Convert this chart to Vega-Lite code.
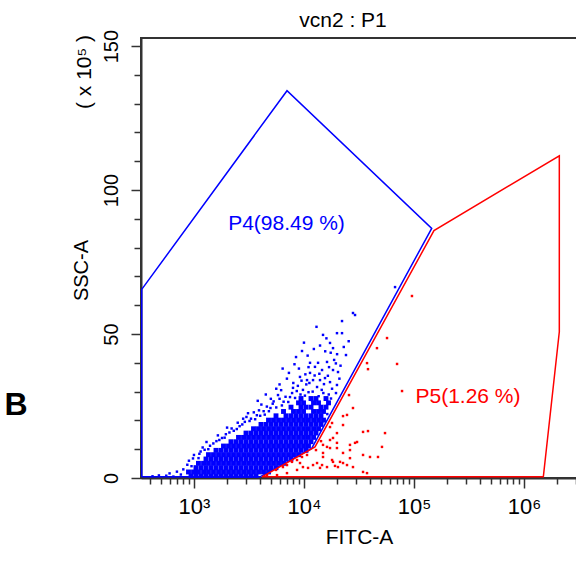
{
  "$schema": "https://vega.github.io/schema/vega-lite/v6.json",
  "autosize": "none",
  "width": 436,
  "height": 440,
  "padding": {"left": 141, "top": 38, "right": 0, "bottom": 85},
  "background": "white",
  "config": {
    "view": {"stroke": "#333333", "strokeWidth": 2},
    "font": "Liberation Sans",
    "axis": {"labelFont": "Liberation Sans", "titleFont": "Liberation Sans"},
    "text": {"font": "Liberation Sans"}
  },
  "resolve": {"axis": {"x": "independent", "y": "independent"}},
  "datasets": {
    "core": [
      {"x":940,"y":0.6},{"x":1043,"y":0.6},{"x":1159,"y":0.6},{"x":1286,"y":0.6},{"x":1428,"y":0.6},{"x":1586,"y":0.6},{"x":1761,"y":0.6},{"x":1955,"y":0.6},{"x":2171,"y":0.6},{"x":2411,"y":0.6},{"x":2677,"y":0.6},{"x":2972,"y":0.6},{"x":3300,"y":0.6},{"x":3664,"y":0.6},
      {"x":892,"y":2.1},{"x":991,"y":2.1},{"x":1099,"y":2.1},{"x":1222,"y":2.1},{"x":1355,"y":2.1},{"x":1505,"y":2.1},{"x":1672,"y":2.1},{"x":1856,"y":2.1},{"x":2061,"y":2.1},{"x":2288,"y":2.1},{"x":2541,"y":2.1},{"x":2822,"y":2.1},{"x":3133,"y":2.1},{"x":3478,"y":2.1},{"x":3862,"y":2.1},{"x":4288,"y":2.1},{"x":4762,"y":2.1},
      {"x":1043,"y":3.6},{"x":1159,"y":3.6},{"x":1286,"y":3.6},{"x":1428,"y":3.6},{"x":1586,"y":3.6},{"x":1761,"y":3.6},{"x":1955,"y":3.6},{"x":2171,"y":3.6},{"x":2411,"y":3.6},{"x":2677,"y":3.6},{"x":2972,"y":3.6},{"x":3300,"y":3.6},{"x":3664,"y":3.6},{"x":4068,"y":3.6},{"x":4518,"y":3.6},{"x":5015,"y":3.6},{"x":5569,"y":3.6},
      {"x":1099,"y":5.1},{"x":1222,"y":5.1},{"x":1355,"y":5.1},{"x":1505,"y":5.1},{"x":1672,"y":5.1},{"x":1856,"y":5.1},{"x":2061,"y":5.1},{"x":2288,"y":5.1},{"x":2541,"y":5.1},{"x":2822,"y":5.1},{"x":3133,"y":5.1},{"x":3478,"y":5.1},{"x":3862,"y":5.1},{"x":4288,"y":5.1},{"x":4762,"y":5.1},{"x":5286,"y":5.1},{"x":5870,"y":5.1},{"x":6517,"y":5.1},
      {"x":1286,"y":6.6},{"x":1428,"y":6.6},{"x":1586,"y":6.6},{"x":1761,"y":6.6},{"x":1955,"y":6.6},{"x":2171,"y":6.6},{"x":2411,"y":6.6},{"x":2677,"y":6.6},{"x":2972,"y":6.6},{"x":3300,"y":6.6},{"x":3664,"y":6.6},{"x":4068,"y":6.6},{"x":4518,"y":6.6},{"x":5015,"y":6.6},{"x":5569,"y":6.6},{"x":6183,"y":6.6},{"x":6866,"y":6.6},{"x":7623,"y":6.6},
      {"x":1355,"y":8.1},{"x":1505,"y":8.1},{"x":1672,"y":8.1},{"x":1856,"y":8.1},{"x":2061,"y":8.1},{"x":2288,"y":8.1},{"x":2541,"y":8.1},{"x":2822,"y":8.1},{"x":3133,"y":8.1},{"x":3478,"y":8.1},{"x":3862,"y":8.1},{"x":4288,"y":8.1},{"x":4762,"y":8.1},{"x":5286,"y":8.1},{"x":5870,"y":8.1},{"x":6517,"y":8.1},{"x":7237,"y":8.1},{"x":8035,"y":8.1},{"x":8922,"y":8.1},
      {"x":1586,"y":9.6},{"x":1761,"y":9.6},{"x":1955,"y":9.6},{"x":2171,"y":9.6},{"x":2411,"y":9.6},{"x":2677,"y":9.6},{"x":2972,"y":9.6},{"x":3300,"y":9.6},{"x":3664,"y":9.6},{"x":4068,"y":9.6},{"x":4518,"y":9.6},{"x":5015,"y":9.6},{"x":5569,"y":9.6},{"x":6183,"y":9.6},{"x":6866,"y":9.6},{"x":7623,"y":9.6},{"x":8465,"y":9.6},{"x":9400,"y":9.6},{"x":10430,"y":9.6},
      {"x":1856,"y":11.1},{"x":2061,"y":11.1},{"x":2288,"y":11.1},{"x":2541,"y":11.1},{"x":2822,"y":11.1},{"x":3133,"y":11.1},{"x":3478,"y":11.1},{"x":3862,"y":11.1},{"x":4288,"y":11.1},{"x":4762,"y":11.1},{"x":5286,"y":11.1},{"x":5870,"y":11.1},{"x":6517,"y":11.1},{"x":7237,"y":11.1},{"x":8035,"y":11.1},{"x":8922,"y":11.1},{"x":9908,"y":11.1},{"x":10990,"y":11.1},
      {"x":2171,"y":12.6},{"x":2411,"y":12.6},{"x":2677,"y":12.6},{"x":2972,"y":12.6},{"x":3300,"y":12.6},{"x":3664,"y":12.6},{"x":4068,"y":12.6},{"x":4518,"y":12.6},{"x":5015,"y":12.6},{"x":5569,"y":12.6},{"x":6183,"y":12.6},{"x":6866,"y":12.6},{"x":7623,"y":12.6},{"x":8465,"y":12.6},{"x":9400,"y":12.6},{"x":10430,"y":12.6},{"x":11590,"y":12.6},
      {"x":2541,"y":14.1},{"x":2822,"y":14.1},{"x":3133,"y":14.1},{"x":3478,"y":14.1},{"x":3862,"y":14.1},{"x":4288,"y":14.1},{"x":4762,"y":14.1},{"x":5286,"y":14.1},{"x":5870,"y":14.1},{"x":6517,"y":14.1},{"x":7237,"y":14.1},{"x":8035,"y":14.1},{"x":8922,"y":14.1},{"x":9908,"y":14.1},{"x":10990,"y":14.1},{"x":12220,"y":14.1},
      {"x":2972,"y":15.6},{"x":3300,"y":15.6},{"x":3664,"y":15.6},{"x":4068,"y":15.6},{"x":4518,"y":15.6},{"x":5015,"y":15.6},{"x":5569,"y":15.6},{"x":6183,"y":15.6},{"x":6866,"y":15.6},{"x":7623,"y":15.6},{"x":8465,"y":15.6},{"x":9400,"y":15.6},{"x":10430,"y":15.6},{"x":11590,"y":15.6},{"x":12860,"y":15.6},
      {"x":3478,"y":17.1},{"x":3862,"y":17.1},{"x":4288,"y":17.1},{"x":4762,"y":17.1},{"x":5286,"y":17.1},{"x":5870,"y":17.1},{"x":6517,"y":17.1},{"x":7237,"y":17.1},{"x":8035,"y":17.1},{"x":8922,"y":17.1},{"x":9908,"y":17.1},{"x":10990,"y":17.1},{"x":12220,"y":17.1},{"x":13560,"y":17.1},
      {"x":4068,"y":18.6},{"x":4518,"y":18.6},{"x":5015,"y":18.6},{"x":5569,"y":18.6},{"x":6183,"y":18.6},{"x":6866,"y":18.6},{"x":7623,"y":18.6},{"x":8465,"y":18.6},{"x":9400,"y":18.6},{"x":10430,"y":18.6},{"x":11590,"y":18.6},{"x":12860,"y":18.6},{"x":14280,"y":18.6},
      {"x":4762,"y":20.1},{"x":5286,"y":20.1},{"x":5870,"y":20.1},{"x":6517,"y":20.1},{"x":7237,"y":20.1},{"x":8035,"y":20.1},{"x":8922,"y":20.1},{"x":9908,"y":20.1},{"x":10990,"y":20.1},{"x":12220,"y":20.1},{"x":13560,"y":20.1},{"x":15050,"y":20.1},
      {"x":5569,"y":21.6},{"x":6866,"y":21.6},{"x":7623,"y":21.6},{"x":8465,"y":21.6},{"x":9400,"y":21.6},{"x":10430,"y":21.6},{"x":11590,"y":21.6},{"x":12860,"y":21.6},{"x":14280,"y":21.6},
      {"x":6517,"y":23.1},{"x":8035,"y":23.1},{"x":8922,"y":23.1},{"x":9908,"y":23.1},{"x":12220,"y":23.1},{"x":13560,"y":23.1},{"x":15050,"y":23.1},
      {"x":7623,"y":24.6},{"x":9400,"y":24.6},{"x":10430,"y":24.6},{"x":11590,"y":24.6},{"x":14280,"y":24.6},{"x":15860,"y":24.6},
      {"x":8922,"y":26.1},{"x":9908,"y":26.1},{"x":12220,"y":26.1},{"x":13560,"y":26.1},{"x":16720,"y":26.1},
      {"x":9400,"y":27.6},{"x":11590,"y":27.6},{"x":12860,"y":27.6},{"x":15860,"y":27.6}
    ],
    "events": [
      {"gate":"P4","x":420,"y":0.6},{"gate":"P4","x":560,"y":0.8},{"gate":"P4","x":650,"y":0.5},{"gate":"P4","x":760,"y":1.2},{"gate":"P4","x":800,"y":3.0},{"gate":"P4","x":870,"y":4.6},{"gate":"P4","x":980,"y":6.8},{"gate":"P4","x":1120,"y":8.4},{"gate":"P4","x":1250,"y":9.8},{"gate":"P4","x":1400,"y":11.2},{"gate":"P4","x":1600,"y":12.8},{"gate":"P4","x":1800,"y":13.9},{"gate":"P4","x":1950,"y":15.2},{"gate":"P4","x":2300,"y":16.4},{"gate":"P4","x":2600,"y":18.0},{"gate":"P4","x":2900,"y":19.5},{"gate":"P4","x":3300,"y":20.6},{"gate":"P4","x":3730,"y":21.8},{"gate":"P4","x":4300,"y":23.2},{"gate":"P4","x":4960,"y":24.3},{"gate":"P4","x":5200,"y":25.8},{"gate":"P4","x":5807,"y":28.8},{"gate":"P4","x":6530,"y":26.5},{"gate":"P4","x":7467,"y":28.1},{"gate":"P4","x":6200,"y":30.5},{"gate":"P4","x":7950,"y":31.3},{"gate":"P4","x":9790,"y":30.6},{"gate":"P4","x":10660,"y":34},{"gate":"P4","x":12090,"y":34},{"gate":"P4","x":13990,"y":34},{"gate":"P4","x":15530,"y":34.7},{"gate":"P4","x":17250,"y":33.3},{"gate":"P4","x":19950,"y":32.3},{"gate":"P4","x":13150,"y":31.6},{"gate":"P4","x":9200,"y":35.1},{"gate":"P4","x":11350,"y":36.5},{"gate":"P4","x":14600,"y":37.5},{"gate":"P4","x":8470,"y":42},{"gate":"P4","x":9600,"y":44.1},{"gate":"P4","x":11350,"y":40},{"gate":"P4","x":13430,"y":40},{"gate":"P4","x":16200,"y":40.3},{"gate":"P4","x":12590,"y":38.6},{"gate":"P4","x":16900,"y":38.5},{"gate":"P4","x":18370,"y":37.5},{"gate":"P4","x":20390,"y":36.8},{"gate":"P4","x":17250,"y":46.9},{"gate":"P4","x":18370,"y":45.1},{"gate":"P4","x":24100,"y":42.7},{"gate":"P4","x":14900,"y":49.7},{"gate":"P4","x":19960,"y":50.3},{"gate":"P4","x":22180,"y":50.3},{"gate":"P4","x":22180,"y":54.5},{"gate":"P4","x":27900,"y":57.3},{"gate":"P4","x":29130,"y":56.6},{"gate":"P4","x":67300,"y":66.3},{"gate":"P4","x":15000,"y":29.5},{"gate":"P4","x":17610,"y":27.6},{"gate":"P4","x":19550,"y":29.5},{"gate":"P4","x":18000,"y":31},{"gate":"P4","x":8000,"y":33},{"gate":"P4","x":10500,"y":32.5},{"gate":"P4","x":12000,"y":30},{"gate":"P4","x":16500,"y":35.5},{"gate":"P4","x":21500,"y":39},{"gate":"P4","x":20000,"y":43},{"gate":"P4","x":11000,"y":38.5},{"gate":"P4","x":10000,"y":47},{"gate":"P4","x":15600,"y":44},{"gate":"P4","x":25500,"y":47.5},{"gate":"P4","x":13000,"y":52.5},{"gate":"P4","x":9000,"y":38},{"gate":"P4","x":7000,"y":34.5},{"gate":"P4","x":6000,"y":32.5},{"gate":"P4","x":21000,"y":34.5},{"gate":"P4","x":23000,"y":45.5},{"gate":"P4","x":14200,"y":23.5},{"gate":"P4","x":16000,"y":25},{"gate":"P4","x":16300,"y":22.2},{"gate":"P4","x":3100,"y":22.5},{"gate":"P4","x":4100,"y":25.5},{"gate":"P4","x":2000,"y":17.5},{"gate":"P4","x":1300,"y":12.5},{"gate":"P4","x":5000,"y":27.5},
      {"gate":"P4","x":900,"y":6.0},{"gate":"P4","x":1000,"y":8.0},{"gate":"P4","x":1150,"y":9.2},{"gate":"P4","x":1200,"y":10.6},{"gate":"P4","x":1350,"y":10.0},{"gate":"P4","x":1500,"y":12.0},{"gate":"P4","x":1700,"y":13.2},{"gate":"P4","x":1650,"y":14.8},{"gate":"P4","x":1900,"y":14.0},{"gate":"P4","x":2100,"y":15.8},{"gate":"P4","x":2200,"y":17.2},{"gate":"P4","x":2450,"y":17.0},{"gate":"P4","x":2500,"y":19.2},{"gate":"P4","x":2750,"y":18.6},{"gate":"P4","x":2800,"y":20.6},{"gate":"P4","x":3000,"y":21.2},{"gate":"P4","x":3200,"y":19.8},{"gate":"P4","x":3500,"y":22.8},{"gate":"P4","x":3600,"y":20.4},{"gate":"P4","x":3900,"y":23.5},{"gate":"P4","x":4000,"y":21.6},{"gate":"P4","x":4400,"y":22.0},{"gate":"P4","x":4600,"y":24.8},{"gate":"P4","x":4800,"y":23.2},{"gate":"P4","x":5300,"y":26.6},{"gate":"P4","x":5600,"y":24.5},{"gate":"P4","x":6000,"y":27.5},{"gate":"P4","x":6300,"y":25.2},{"gate":"P4","x":6800,"y":28.2},{"gate":"P4","x":7200,"y":26.4},{"gate":"P4","x":7800,"y":29.5},{"gate":"P4","x":8300,"y":27.8},{"gate":"P4","x":8600,"y":30.2},{"gate":"P4","x":9300,"y":29.0},{"gate":"P4","x":10200,"y":28.6},{"gate":"P4","x":11000,"y":29.8},{"gate":"P4","x":11800,"y":27.0},{"gate":"P4","x":13600,"y":28.4},{"gate":"P4","x":14500,"y":30.6},{"gate":"P4","x":16800,"y":29.0},{"gate":"P4","x":8800,"y":32.0},{"gate":"P4","x":9500,"y":33.8},{"gate":"P4","x":11200,"y":33.0},{"gate":"P4","x":12500,"y":35.6},{"gate":"P4","x":13800,"y":36.2},{"gate":"P4","x":10300,"y":36.0},{"gate":"P4","x":15200,"y":32.6},{"gate":"P4","x":7300,"y":36.5},{"gate":"P4","x":8200,"y":39.5},{"gate":"P4","x":10800,"y":42.5},{"gate":"P4","x":12300,"y":44.8},{"gate":"P4","x":14000,"y":46.0},{"gate":"P4","x":16000,"y":48.5},{"gate":"P4","x":18800,"y":41.0},{"gate":"P4","x":19500,"y":39.8},{"gate":"P4","x":17500,"y":43.5},{"gate":"P4","x":6400,"y":38.0},{"gate":"P4","x":5600,"y":31.0},{"gate":"P4","x":4500,"y":29.0},{"gate":"P4","x":3800,"y":26.8},{"gate":"P4","x":700,"y":2.2},{"gate":"P4","x":950,"y":4.1},{"gate":"P4","x":1100,"y":6.9},{"gate":"P4","x":600,"y":1.6},{"gate":"P4","x":480,"y":0.9},
      {"gate":"P5","x":4613,"y":1.0},{"gate":"P5","x":5570,"y":2.8},{"gate":"P5","x":5690,"y":1.0},{"gate":"P5","x":6440,"y":3.8},{"gate":"P5","x":7010,"y":1.7},{"gate":"P5","x":7010,"y":4.5},{"gate":"P5","x":7780,"y":5.6},{"gate":"P5","x":8650,"y":6.25},{"gate":"P5","x":8650,"y":2.8},{"gate":"P5","x":9600,"y":7.3},{"gate":"P5","x":9207,"y":5.2},{"gate":"P5","x":9790,"y":3.8},{"gate":"P5","x":10660,"y":8},{"gate":"P5","x":10890,"y":3.5},{"gate":"P5","x":12090,"y":4.5},{"gate":"P5","x":13150,"y":5.2},{"gate":"P5","x":13990,"y":3.5},{"gate":"P5","x":14600,"y":4.5},{"gate":"P5","x":14900,"y":7.3},{"gate":"P5","x":14900,"y":11.5},{"gate":"P5","x":18000,"y":19.1},{"gate":"P5","x":14900,"y":8.7},{"gate":"P5","x":16200,"y":10.8},{"gate":"P5","x":16200,"y":3.8},{"gate":"P5","x":17250,"y":13.2},{"gate":"P5","x":17250,"y":17.7},{"gate":"P5","x":17250,"y":10.4},{"gate":"P5","x":18000,"y":6.25},{"gate":"P5","x":18370,"y":13.9},{"gate":"P5","x":18370,"y":5.6},{"gate":"P5","x":19150,"y":4.2},{"gate":"P5","x":19950,"y":10.4},{"gate":"P5","x":19950,"y":15.6},{"gate":"P5","x":19950,"y":12.2},{"gate":"P5","x":20370,"y":3.8},{"gate":"P5","x":21270,"y":5.6},{"gate":"P5","x":22650,"y":18.4},{"gate":"P5","x":22650,"y":21.5},{"gate":"P5","x":22650,"y":8.7},{"gate":"P5","x":22650,"y":5.2},{"gate":"P5","x":25670,"y":28.8},{"gate":"P5","x":24620,"y":21.9},{"gate":"P5","x":24620,"y":4.5},{"gate":"P5","x":26200,"y":9.7},{"gate":"P5","x":26200,"y":11.5},{"gate":"P5","x":26200,"y":6.9},{"gate":"P5","x":27900,"y":24.3},{"gate":"P5","x":27900,"y":3.8},{"gate":"P5","x":29130,"y":12.2},{"gate":"P5","x":30370,"y":12.5},{"gate":"P5","x":34440,"y":8},{"gate":"P5","x":34440,"y":2.1},{"gate":"P5","x":34440,"y":16},{"gate":"P5","x":37430,"y":1.7},{"gate":"P5","x":37430,"y":39.9},{"gate":"P5","x":38200,"y":16.3},{"gate":"P5","x":38200,"y":37.8},{"gate":"P5","x":39840,"y":7.3},{"gate":"P5","x":46100,"y":45.1},{"gate":"P5","x":47100,"y":7.3},{"gate":"P5","x":51200,"y":10.8},{"gate":"P5","x":54550,"y":15.6},{"gate":"P5","x":56900,"y":48.6},{"gate":"P5","x":70200,"y":39.6},{"gate":"P5","x":77900,"y":30.2},{"gate":"P5","x":95900,"y":63.2},{"gate":"P5","x":12860,"y":9.7},{"gate":"P5","x":14290,"y":12.8}
    ],
    "gates": [
      {"gate":"P4","o":1,"x":335,"y":0.4},{"gate":"P4","o":2,"x":335,"y":65.5},{"gate":"P4","o":3,"x":7013,"y":134.5},{"gate":"P4","o":4,"x":145000,"y":86.7},{"gate":"P4","o":5,"x":11760,"y":10.3},{"gate":"P4","o":6,"x":3985,"y":0.4},{"gate":"P4","o":7,"x":335,"y":0.4},
      {"gate":"P5","o":1,"x":4150,"y":0.4},{"gate":"P5","o":2,"x":12600,"y":10.8},{"gate":"P5","o":3,"x":152000,"y":85.9},{"gate":"P5","o":4,"x":2096000,"y":111.9},{"gate":"P5","o":5,"x":2096000,"y":50.8},{"gate":"P5","o":6,"x":1500000,"y":0.4},{"gate":"P5","o":7,"x":4150,"y":0.4}
    ],
    "labels": [
      {"gate":"P4","label":"P4(98.49 %)","x":6937,"y":88.2},
      {"gate":"P5","label":"P5(1.26 %)","x":309900,"y":28.3}
    ]
  },
  "encoding": {
    "x": {"field": "x", "type": "quantitative", "scale": {"type": "log", "domain": [330, 3035000], "nice": false}, "axis": null},
    "y": {"field": "y", "type": "quantitative", "scale": {"domain": [0, 152.8], "nice": false, "zero": false}, "axis": null}
  },
  "layer": [
    {
      "data": {"name": "core"},
      "mark": {"type": "square", "color": "#0000ff", "size": 24, "opacity": 1, "clip": true},
      "encoding": {
        "x": {
          "field": "x", "type": "quantitative",
          "scale": {"type": "log", "domain": [330, 3035000], "nice": false},
          "axis": {
            "orient": "bottom",
            "title": "FITC-A", "titleFontSize": 21, "titleFontWeight": "normal", "titleColor": "#000000",
            "titleBaseline": "alphabetic", "titleY": 65,
            "values": [1000, 10000, 100000, 1000000],
            "labelExpr": "datum.value == 1000 ? '10³' : datum.value == 10000 ? '10⁴' : datum.value == 100000 ? '10⁵' : '10⁶'",
            "labelFontSize": 22, "labelColor": "#000000", "labelOverlap": false, "labelFlush": false, "labelBound": false, "labelPadding": 8,
            "tickSize": 10, "tickColor": "#333333", "tickWidth": 1.5, "domainColor": "#333333", "domainWidth": 2, "grid": false
          }
        },
        "y": {
          "field": "y", "type": "quantitative",
          "scale": {"domain": [0, 152.8], "nice": false, "zero": false},
          "axis": {
            "orient": "left",
            "title": "SSC-A", "titleFontSize": 20, "titleFontWeight": "normal", "titleColor": "#000000",
            "titleAngle": 270, "titleAlign": "center", "titleBaseline": "middle", "titleX": -59.5, "titleY": 232,
            "values": [0, 50, 100, 150],
            "labelAngle": 270, "labelFontSize": 20, "labelColor": "#000000", "labelOverlap": false, "labelFlush": false, "labelBound": false, "labelPadding": 10,
            "tickSize": 10, "tickColor": "#333333", "tickWidth": 1.5, "domainColor": "#333333", "domainWidth": 2, "grid": false
          }
        }
      }
    },
    {
      "data": {"name": "events"},
      "mark": {"type": "square", "size": 6, "opacity": 1, "clip": true},
      "encoding": {
        "x": {
          "field": "x", "type": "quantitative",
          "scale": {"type": "log", "domain": [330, 3035000], "nice": false},
          "axis": {
            "orient": "bottom", "title": null, "labels": false, "domain": false, "grid": false,
            "values": [400,500,600,700,800,900,2000,3000,4000,5000,6000,7000,8000,9000,20000,30000,40000,50000,60000,70000,80000,90000,200000,300000,400000,500000,600000,700000,800000,900000,2000000,3000000],
            "tickSize": 6, "tickColor": "#333333", "tickWidth": 1.5
          }
        },
        "y": {
          "field": "y", "type": "quantitative",
          "scale": {"domain": [0, 152.8], "nice": false, "zero": false},
          "axis": {
            "orient": "left", "title": null, "labels": false, "domain": false, "grid": false,
            "values": [10,20,30,40,60,70,80,90,110,120,130,140],
            "tickSize": 7, "tickColor": "#333333", "tickWidth": 1.5
          }
        },
        "color": {"field": "gate", "type": "nominal", "scale": {"domain": ["P4", "P5"], "range": ["#0000ff", "#ff0000"]}, "legend": null}
      }
    },
    {
      "data": {"name": "gates"},
      "mark": {"type": "line", "strokeWidth": 1.5, "clip": false},
      "encoding": {
        "order": {"field": "o", "type": "quantitative"},
        "detail": {"field": "gate"},
        "color": {"field": "gate", "type": "nominal", "scale": {"domain": ["P4", "P5"], "range": ["#0000ff", "#ff0000"]}, "legend": null}
      }
    },
    {
      "data": {"name": "labels"},
      "mark": {"type": "text", "fontSize": 21, "align": "center", "baseline": "middle"},
      "encoding": {
        "text": {"field": "label"},
        "color": {"field": "gate", "type": "nominal", "scale": {"domain": ["P4", "P5"], "range": ["#0000ff", "#ff0000"]}, "legend": null}
      }
    },
    {
      "data": {"values": [{"t": "( x 10⁵ )", "x": 102.2, "y": 141}]},
      "mark": {"type": "text", "fontSize": 21, "angle": 270, "align": "center", "baseline": "middle", "color": "#000000", "clip": false},
      "encoding": {"text": {"field": "t"}}
    },
    {
      "data": {"values": [{"t": "vcn2 : P1", "x": 22650, "y": 156.6}]},
      "mark": {"type": "text", "fontSize": 21, "align": "center", "baseline": "alphabetic", "color": "#000000", "clip": false},
      "encoding": {"text": {"field": "t"}}
    },
    {
      "data": {"values": [{"t": "B", "x": 24.1, "y": 25.3}]},
      "mark": {"type": "text", "fontSize": 32, "fontWeight": "bold", "align": "center", "baseline": "middle", "color": "#000000", "clip": false},
      "encoding": {"text": {"field": "t"}}
    }
  ]
}
